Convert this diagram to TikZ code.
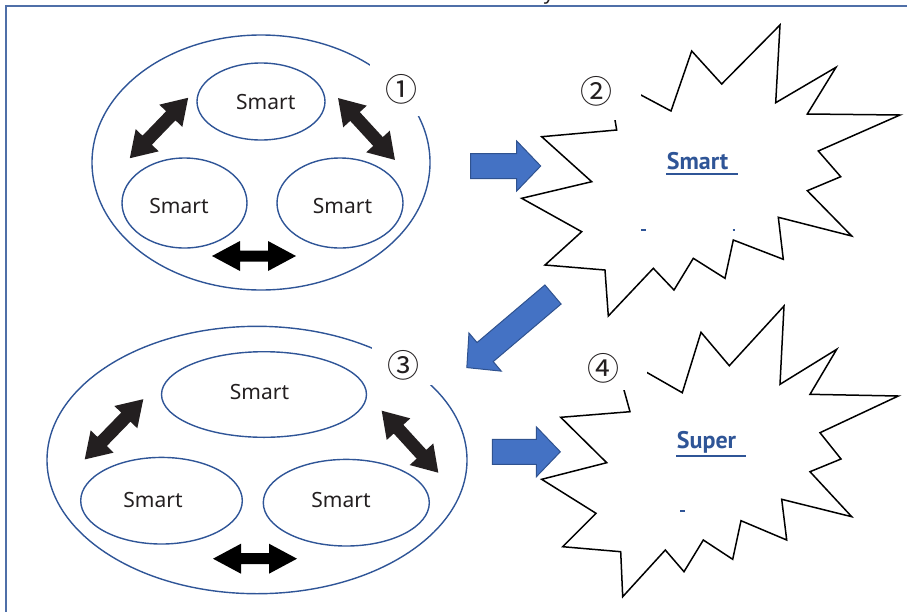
\documentclass[tikz,border=0pt]{standalone}
\usepackage{fontspec}
\newfontfamily\smartfont{Noto Sans}
\newfontfamily\burstfont{PT Sans}
\newfontfamily\cjk{Noto Sans CJK JP}
\usetikzlibrary{shapes.geometric,calc}
\definecolor{ringblue}{HTML}{2F5597}
\definecolor{framecol}{HTML}{4F6FA8}
\definecolor{arrowfill}{HTML}{4472C4}
\definecolor{arrowedge}{HTML}{2F528F}
\definecolor{inkdark}{HTML}{231F20}

\begin{document}
\begin{tikzpicture}[x=1pt,y=-1pt,
  ring/.style={ellipse, draw=ringblue, line width=1.4pt, inner sep=0pt},
  member/.style={ellipse, draw=ringblue, line width=1.4pt, inner sep=0pt},
  smarttext/.style={font=\smartfont\fontsize{21}{21}\selectfont, text=inkdark, inner sep=0pt},
  numbox/.style={fill=white, inner sep=0pt, font=\cjk\fontsize{32}{32}\selectfont, text=inkdark},
  burst/.style={draw=black, fill=white, line width=1.5pt, line join=miter, miter limit=6},
  burstlabel/.style={font=\burstfont\bfseries\fontsize{24}{24}\selectfont, text=ringblue, inner sep=0pt, anchor=base west},
  underbar/.style={ringblue, line width=2pt},
  bluearrow/.style={fill=arrowfill, draw=arrowedge, line width=1pt, line join=miter},
  pics/blockarrow/.style={code={
    \filldraw[bluearrow] (0,-12.5) -- ({#1-24},-12.5) -- ({#1-24},-25) -- (#1,0)
      -- ({#1-24},25) -- ({#1-24},12.5) -- (0,12.5) -- cycle;}},
  pics/swapdiag/.style={code={
    \fill[inkdark] (-42,0) -- (-17,-16) -- (-17,-6.5) -- (17,-6.5) -- (17,-16) -- (42,0)
      -- (17,16) -- (17,6.5) -- (-17,6.5) -- (-17,16) -- cycle;}},
  pics/swapflat/.style={code={
    \fill[black] (-42,0) -- (-14,-15) -- (-14,-5.5) -- (14,-5.5) -- (14,-15) -- (42,0)
      -- (14,15) -- (14,5.5) -- (-14,5.5) -- (-14,15) -- cycle;}},
]
\useasboundingbox (0,0) rectangle (907,611);

% page frame (top and left edges only)
\draw[framecol, line width=2pt] (5.5,620) -- (5.5,5.5) -- (915,5.5);
\node[font=\smartfont\fontsize{20}{20}\selectfont, text=inkdark, inner sep=0pt, anchor=base] (cut) at (549,-1) {y};

% ---- group 1: three members inside one ring ----
\node[ring, minimum width=338, minimum height=255] (ring1) at (261,162.5) {};
\node[member, minimum width=128, minimum height=77] (a1) at (261,101.5) {};
\node[member, minimum width=125, minimum height=90] (a2) at (184.5,203) {};
\node[member, minimum width=126, minimum height=90] (a3) at (340,203) {};
\node[smarttext] (ta1) at (265.8,101.7) {Smart};
\node[smarttext] (ta2) at (179,206) {Smart};
\node[smarttext] (ta3) at (342.5,206) {Smart};
\pic[rotate=46] at (159,128) {swapdiag};
\pic[rotate=-47.4] at (366.5,129) {swapdiag};
\pic at (254,256) {swapflat};

% ---- group 3: wider ring ----
\node[ring, minimum width=420, minimum height=267.4] (ring3) at (257,460) {};
\node[member, minimum width=205, minimum height=85.6] (c1) at (264,394.5) {};
\node[member, minimum width=161.6, minimum height=86.6] (c2) at (161.5,500.7) {};
\node[member, minimum width=166, minimum height=86.6] (c3) at (346.3,502.7) {};
\node[smarttext] (tc1) at (259.5,391.7) {Smart};
\node[smarttext] (tc2) at (153,500) {Smart};
\node[smarttext] (tc3) at (341,500) {Smart};
\pic[rotate=45.8] at (114,429.3) {swapdiag};
\pic[rotate=-47.6] at (410,441.7) {swapdiag};
\pic at (255,558.7) {swapflat};

% ---- explosion shapes ----
\filldraw[burst] (607.7,77.3) -- (616.7,130) -- (541.7,136.7) -- (591.7,181.7)
  -- (521.7,198.3) -- (581.7,231.7) -- (545,265) -- (605,270) -- (608.3,316)
  -- (653.3,268.3) -- (674,290) -- (693.3,258.3) -- (725,278.3) -- (733.3,240)
  -- (783.3,259.3) -- (778.3,217.3) -- (851.7,236) -- (807.3,190.7) -- (840.7,176.7)
  -- (818.3,151) -- (900,115) -- (807.3,114) -- (836,67.3) -- (775.7,102.7)
  -- (780,25) -- (721.7,84) -- (691.7,51) -- (671,111) -- cycle;
\filldraw[burst] (613.9,353.6) -- (630,411.7) -- (560.7,417.3) -- (606.7,462.7)
  -- (541.7,479.3) -- (596,513.3) -- (562.7,546.7) -- (620.7,551.7) -- (622.7,596.7)
  -- (665.3,550) -- (684,571.7) -- (703.3,540) -- (732.7,559.3) -- (741,520.7)
  -- (786.7,540) -- (781.7,499.3) -- (851.7,516.7) -- (810,471.7) -- (841,459)
  -- (820,432.7) -- (898.3,396) -- (810,394.3) -- (836.7,349.3) -- (780,384.3)
  -- (784,306) -- (729.3,365.7) -- (701,332.3) -- (682.3,392.7) -- cycle;

\node[burstlabel] (b1) at (666.7,169.5) {Smart};
\draw[underbar] ($(b1.base west)+(-0.7,4.8)$) -- ++(72,0);
\draw[ringblue, line width=1.2pt] (641,230) -- (646,230) (732.5,230) -- (734.5,230);
\node[burstlabel] (b2) at (676.7,448.5) {Super};
\draw[underbar] ($(b2.base west)+(-0.7,7.2)$) -- ++(70,0);
\draw[ringblue, line width=1.2pt] (680,511) -- (685,511);

% ---- step numbers on white boxes ----
\node[numbox, minimum width=62, minimum height=54] (n1) at (401,89) {①};
\node[numbox, minimum width=88.6, minimum height=56.6] (n2) at (596.7,91.7) {②};
\node[numbox, minimum width=63, minimum height=40] (n3) at (403,365) {③};
\node[numbox, minimum width=88.6, minimum height=44] (n4) at (603,368) {④};

% ---- flow arrows ----
\pic at (470.7,166) {blockarrow=70};
\pic[rotate=220.3] at (553,294.5) {blockarrow=113};
\pic at (492.3,451.8) {blockarrow=68};
\end{tikzpicture}
\end{document}
